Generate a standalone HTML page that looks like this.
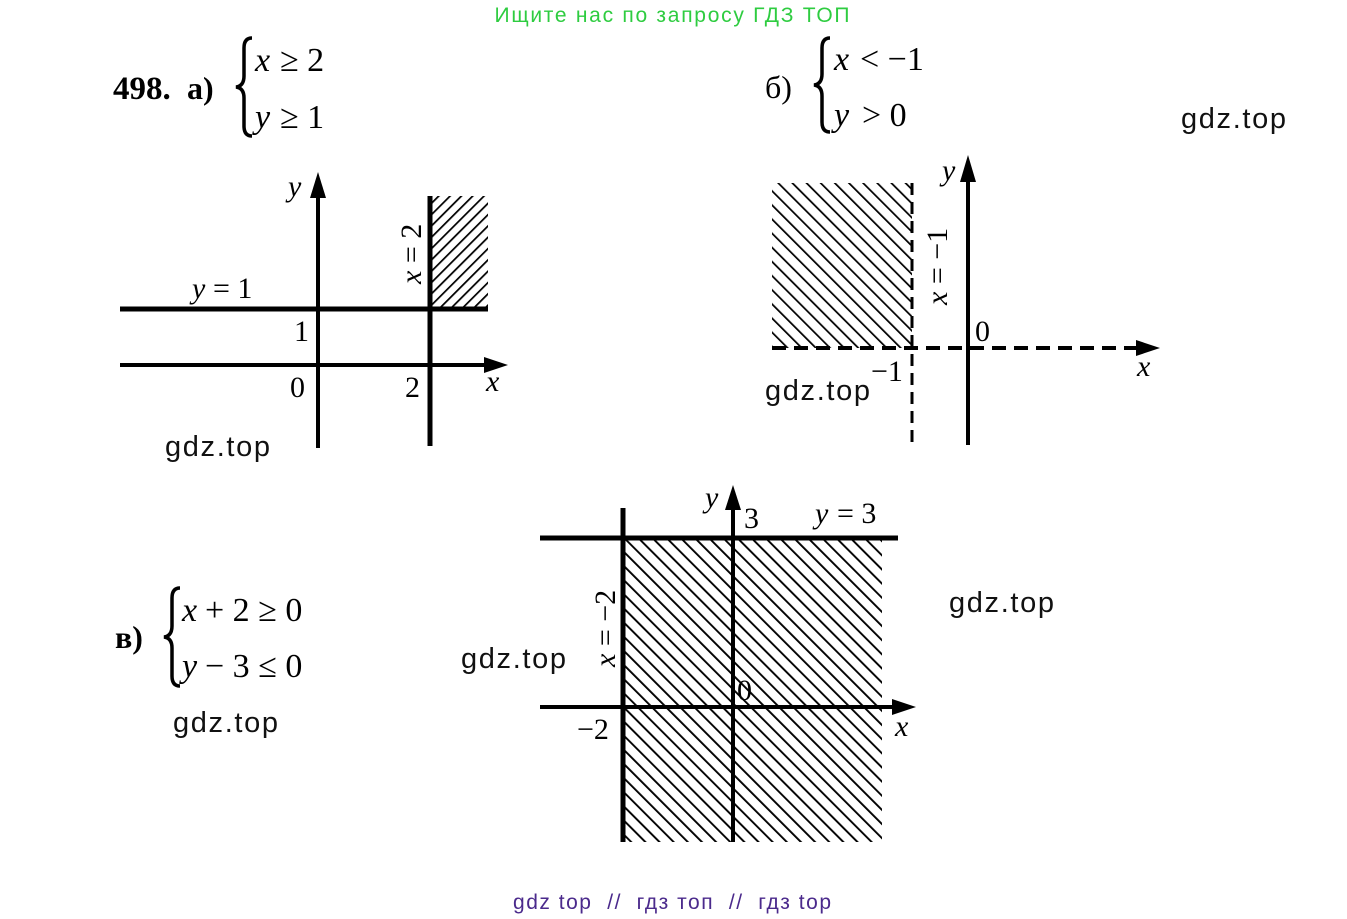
<!DOCTYPE html>
<html><head><meta charset="utf-8"><style>
html,body{margin:0;padding:0;background:#fff;}
svg{display:block;}
.s{font-family:"Liberation Serif",serif;fill:#000;}
.i{font-family:"Liberation Serif",serif;font-style:italic;fill:#000;}
.g{font-family:"Liberation Sans","DejaVu Sans",sans-serif;fill:#111;}
</style></head><body>
<svg width="1347" height="919" viewBox="0 0 1347 919" xmlns="http://www.w3.org/2000/svg">
<defs>
<pattern id="pa" width="8" height="8" patternUnits="userSpaceOnUse" patternTransform="rotate(45)">
<line x1="0" y1="0" x2="0" y2="8" stroke="#000" stroke-width="3.5"/></pattern>
<pattern id="pb" width="10" height="10" patternUnits="userSpaceOnUse" patternTransform="rotate(-45)">
<line x1="0" y1="0" x2="0" y2="10" stroke="#000" stroke-width="3.5"/></pattern>
<pattern id="pc" width="10" height="10" patternUnits="userSpaceOnUse" patternTransform="rotate(-45)">
<line x1="0" y1="0" x2="0" y2="10" stroke="#000" stroke-width="3.8"/></pattern>
</defs>
<rect width="1347" height="919" fill="#fff"/>
<text x="672" y="22" text-anchor="middle" font-family="Liberation Sans,sans-serif" font-size="21" fill="#2ecc40" textLength="355">Ищите нас по запросу ГДЗ ТОП</text>

<text x="113" y="99" class="s" font-size="33" font-weight="bold">498.</text>
<text x="187" y="99" class="s" font-size="32" font-weight="bold">а)</text>
<path d="M252,38 Q244,38 244,48 L244,76 Q244,86 236,87 Q244,88 244,98 L244,126 Q244,136 252,136" fill="none" stroke="#000" stroke-width="3.5"/>
<text x="255" y="71" class="i" font-size="34">x</text><text x="280" y="71" class="s" font-size="34">≥ 2</text>
<text x="255" y="128" class="i" font-size="34">y</text><text x="280" y="128" class="s" font-size="34">≥ 1</text>

<rect x="432" y="196" width="56" height="113" fill="url(#pa)"/>
<line x1="120" y1="309" x2="488" y2="309" stroke="#000" stroke-width="5"/>
<line x1="120" y1="365" x2="492" y2="365" stroke="#000" stroke-width="4"/>
<polygon points="508,365 484,357 484,373" fill="#000"/>
<line x1="318" y1="448" x2="318" y2="190" stroke="#000" stroke-width="4"/>
<polygon points="318,172 310,198 326,198" fill="#000"/>
<line x1="430" y1="196" x2="430" y2="446" stroke="#000" stroke-width="5"/>
<text x="288" y="196" class="i" font-size="30">y</text>
<text x="192" y="298" class="i" font-size="30">y</text><text x="213" y="298" class="s" font-size="30">= 1</text>
<text x="294" y="341" class="s" font-size="30">1</text>
<text x="290" y="397" class="s" font-size="30">0</text>
<text x="405" y="397" class="s" font-size="30">2</text>
<text x="486" y="391" class="i" font-size="30">x</text>
<text transform="translate(421,284) rotate(-90)" class="i" font-size="30">x<tspan class="s" style="font-style:normal"> = 2</tspan></text>
<text x="165" y="456" class="g" font-size="29" textLength="105">gdz.top</text>

<text x="765" y="98" class="s" font-size="32">б)</text>
<path d="M830,38 Q822,38 822,48 L822,74 Q822,84 814,85 Q822,86 822,96 L822,122 Q822,132 830,132" fill="none" stroke="#000" stroke-width="3.5"/>
<text x="834" y="70" class="i" font-size="34">x</text><text x="860" y="70" class="s" font-size="34">&lt; −1</text>
<text x="834" y="126" class="i" font-size="34">y</text><text x="862" y="126" class="s" font-size="34">&gt; 0</text>
<text x="1181" y="128" class="g" font-size="29" textLength="105">gdz.top</text>

<rect x="772" y="183" width="140" height="165" fill="url(#pb)"/>
<line x1="772" y1="348" x2="1140" y2="348" stroke="#000" stroke-width="4" stroke-dasharray="14,8"/>
<polygon points="1160,348 1136,340 1136,356" fill="#000"/>
<line x1="912" y1="183" x2="912" y2="446" stroke="#000" stroke-width="3" stroke-dasharray="12,7"/>
<line x1="968" y1="445" x2="968" y2="175" stroke="#000" stroke-width="4"/>
<polygon points="968,155 960,182 976,182" fill="#000"/>
<text x="942" y="180" class="i" font-size="30">y</text>
<text x="975" y="341" class="s" font-size="30">0</text>
<text x="871" y="381" class="s" font-size="30">−1</text>
<text x="1137" y="376" class="i" font-size="30">x</text>
<text transform="translate(947,305) rotate(-90)" class="i" font-size="30">x<tspan class="s" style="font-style:normal"> = −1</tspan></text>
<text x="765" y="400" class="g" font-size="29" textLength="105">gdz.top</text>

<text x="115" y="648" class="s" font-size="32" font-weight="bold">в)</text>
<path d="M180,588 Q172,588 172,598 L172,626 Q172,636 164,637 Q172,638 172,648 L172,676 Q172,686 180,686" fill="none" stroke="#000" stroke-width="3.5"/>
<text x="182" y="621" class="i" font-size="34">x</text><text x="205" y="621" class="s" font-size="34">+ 2 ≥ 0</text>
<text x="182" y="677" class="i" font-size="34">y</text><text x="205" y="677" class="s" font-size="34">− 3 ≤ 0</text>
<text x="173" y="732" class="g" font-size="29" textLength="105">gdz.top</text>
<text x="461" y="668" class="g" font-size="29" textLength="105">gdz.top</text>
<text x="949" y="612" class="g" font-size="29" textLength="105">gdz.top</text>

<rect x="623" y="538" width="259" height="304" fill="url(#pc)"/>
<line x1="540" y1="538" x2="898" y2="538" stroke="#000" stroke-width="5"/>
<line x1="540" y1="707" x2="896" y2="707" stroke="#000" stroke-width="4"/>
<polygon points="916,707 892,699 892,715" fill="#000"/>
<line x1="623" y1="508" x2="623" y2="842" stroke="#000" stroke-width="5"/>
<line x1="733" y1="842" x2="733" y2="505" stroke="#000" stroke-width="4"/>
<polygon points="733,485 725,510 741,510" fill="#000"/>
<text x="705" y="507" class="i" font-size="30">y</text>
<text x="744" y="528" class="s" font-size="30">3</text>
<text x="815" y="523" class="i" font-size="30">y</text><text x="837" y="523" class="s" font-size="30">= 3</text>
<text x="737" y="700" class="s" font-size="30">0</text>
<text x="577" y="739" class="s" font-size="30">−2</text>
<text x="895" y="736" class="i" font-size="30">x</text>
<text transform="translate(615,667) rotate(-90)" class="i" font-size="30">x<tspan class="s" style="font-style:normal"> = −2</tspan></text>

<text x="513" y="909" font-family="Liberation Sans,sans-serif" font-size="21" fill="#4b2a8c" textLength="318" xml:space="preserve">gdz top  //  гдз топ  //  гдз top</text>
</svg>
</body></html>
